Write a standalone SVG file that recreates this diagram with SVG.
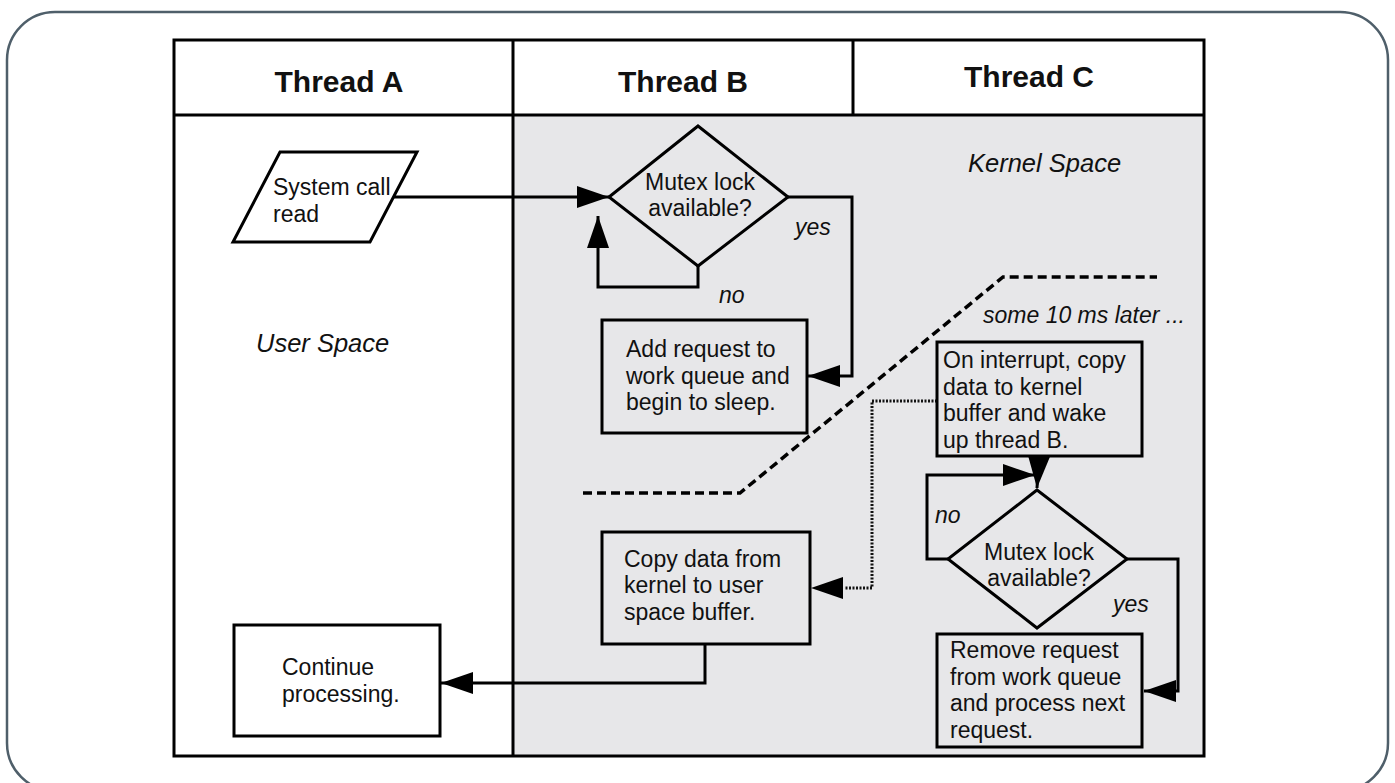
<svg xmlns="http://www.w3.org/2000/svg" width="1395" height="783" viewBox="0 0 1395 783">
<defs>
<style>
text{font-family:"Liberation Sans",Arial,sans-serif;fill:#111;}
.t{font-size:23px;}
.h{font-size:30px;font-weight:bold;text-anchor:middle;}
.i{font-style:italic;font-size:23px;}
.big{font-style:italic;font-size:25.5px;}
.box{fill:none;stroke:#000;stroke-width:3;}
.ln{fill:none;stroke:#000;stroke-width:3;}
.dot{fill:none;stroke:#111;stroke-width:3;stroke-dasharray:2 1.5;}
.dash{fill:none;stroke:#000;stroke-width:3.5;stroke-dasharray:9 5;}
</style>
<marker id="ah" markerUnits="userSpaceOnUse" markerWidth="34" markerHeight="24" refX="32" refY="11" orient="auto">
<path d="M0,0 L32,11 L0,22 z" fill="#000"/>
</marker>
</defs>
<rect x="0" y="0" width="1395" height="783" fill="#fff"/>
<rect x="7" y="12" width="1381" height="779" rx="48" ry="48" fill="#fff" stroke="#4f5f6a" stroke-width="2.5"/>
<g id="lanes">
<rect x="513" y="115" width="691" height="641" fill="#e7e7e9"/>
<rect x="174" y="40" width="1030" height="716" class="box"/>
<line x1="174" y1="115" x2="1204" y2="115" class="ln"/>
<line x1="513" y1="40" x2="513" y2="756" class="ln"/>
<line x1="853" y1="40" x2="853" y2="115" class="ln"/>
<text class="h" x="339" y="92">Thread A</text>
<text class="h" x="683" y="92">Thread B</text>
<text class="h" x="1029" y="87">Thread C</text>
<text class="big" x="256" y="352">User Space</text>
<text class="big" x="968" y="172">Kernel Space</text>
</g>
<g id="separator">
<polyline points="583,493 740,493 1003,277 1157,277" class="dash"/>
<text class="i" x="983" y="323">some 10 ms later ...</text>
</g>
<g id="connectors">
<line x1="393" y1="197" x2="609" y2="197" class="ln" marker-end="url(#ah)"/>
<polyline points="698,266 698,287 598,287 598,216" class="ln" marker-end="url(#ah)"/>
<polyline points="788,197 852,197 852,376 808,376" class="ln" marker-end="url(#ah)"/>
<line x1="1039" y1="456" x2="1037" y2="488" class="ln" marker-end="url(#ah)"/>
<polyline points="948,559 927,559 927,475 1035,475" class="ln" marker-end="url(#ah)"/>
<polyline points="1127,559 1178,559 1178,691 1144,691" class="ln" marker-end="url(#ah)"/>
<polyline points="705,644 705,683 441,683" class="ln" marker-end="url(#ah)"/>
<polyline points="937,401 872,401 872,588 845,588" class="dot"/>
<polygon points="843,577 811,588 843,599" fill="#000"/>
<text class="i" x="795" y="235">yes</text>
<text class="i" x="719" y="303">no</text>
<text class="i" x="935" y="523">no</text>
<text class="i" x="1113" y="612">yes</text>
</g>
<g id="syscall">
<polygon points="280,152 417,152 370,242 233,242" fill="#fff" stroke="#000" stroke-width="3"/>
<text class="t" x="273" y="195">System call</text>
<text class="t" x="273" y="222">read</text>
</g>
<g id="mutex1">
<polygon points="698,126 788,197 698,266 609,197" fill="#e7e7e9" stroke="#000" stroke-width="3"/>
<text class="t" x="700" y="190" text-anchor="middle">Mutex lock</text>
<text class="t" x="700" y="216" text-anchor="middle">available?</text>
</g>
<g id="addreq">
<rect x="602" y="320" width="205" height="113" class="box"/>
<text class="t" x="626" y="357">Add request to</text>
<text class="t" x="626" y="384">work queue and</text>
<text class="t" x="626" y="410">begin to sleep.</text>
</g>
<g id="interrupt">
<rect x="937" y="342" width="205" height="114" class="box"/>
<text class="t" x="943" y="368">On interrupt, copy</text>
<text class="t" x="943" y="394.5">data to kernel</text>
<text class="t" x="943" y="421">buffer and wake</text>
<text class="t" x="943" y="447.5">up thread B.</text>
</g>
<g id="mutex2">
<polygon points="1037,490 1127,559 1037,628 948,559" fill="#e7e7e9" stroke="#000" stroke-width="3"/>
<text class="t" x="1039" y="560" text-anchor="middle">Mutex lock</text>
<text class="t" x="1039" y="586" text-anchor="middle">available?</text>
</g>
<g id="remove">
<rect x="937" y="634" width="205" height="113" class="box"/>
<text class="t" x="950" y="658">Remove request</text>
<text class="t" x="950" y="684.5">from work queue</text>
<text class="t" x="950" y="711">and process next</text>
<text class="t" x="950" y="737.5">request.</text>
</g>
<g id="copydata">
<rect x="602" y="532" width="208" height="112" class="box"/>
<text class="t" x="624" y="567">Copy data from</text>
<text class="t" x="624" y="593">kernel to user</text>
<text class="t" x="624" y="620">space buffer.</text>
</g>
<g id="continue">
<rect x="234" y="625" width="206" height="111" fill="#fff" stroke="#000" stroke-width="3"/>
<text class="t" x="282" y="675">Continue</text>
<text class="t" x="282" y="702">processing.</text>
</g>
</svg>
